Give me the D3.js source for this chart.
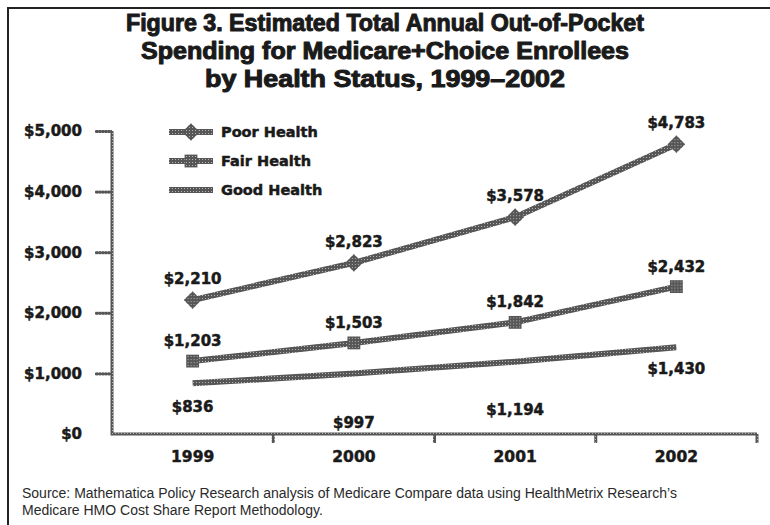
<!DOCTYPE html>
<html>
<head>
<meta charset="utf-8">
<script src="https://cdn.jsdelivr.net/npm/d3@7"></script>
<style>
  body { margin: 0; background: #fff; }
  svg { display: block; }
</style>
</head>
<body>
<svg width="770" height="525"></svg>
<script>
const years = ["1999", "2000", "2001", "2002"]
const poor = [2210, 2823, 3578, 4783]
const fair = [1203, 1503, 1842, 2432]
const good = [836, 997, 1194, 1430]
const yTicks = [0, 1000, 2000, 3000, 4000, 5000]
const seriesNames = ["Poor Health", "Fair Health", "Good Health"]
const titleLines = [
  "Figure 3. Estimated Total Annual Out-of-Pocket",
  "Spending for Medicare+Choice Enrollees",
  "by Health Status, 1999\u20132002"
]
const sourceLines = [
  "Source: Mathematica Policy Research analysis of Medicare Compare data using HealthMetrix Research\u2019s",
  "Medicare HMO Cost Share Report Methodology."
]

// label nudges (px from the point), the original places them by hand
const poorDy = [-16, -16, -16, -16]
const fairDy = [-15, -15, -15, -15]
const goodDy = [29, 54, 53, 27]

const bold = "'DejaVu Sans', Verdana, sans-serif"
const narrow = "'Liberation Sans Narrow', 'Arial Narrow', 'Liberation Sans', Arial, sans-serif"
const ink = "#1a1a1a"

var svg = d3.select("svg")

// halftone look of the original print
var defs = svg.append("defs")
var pat = defs.append("pattern")
    .attr("id", "dots")
    .attr("patternUnits", "userSpaceOnUse")
    .attr("width", 3).attr("height", 3)
pat.append("rect").attr("width", 3).attr("height", 3).attr("fill", "#565656")
pat.append("rect").attr("x", 1).attr("y", 1).attr("width", 1).attr("height", 1).attr("fill", "#b4b4b4")

function heavy(sel, w) {
  sel.attr("font-weight", "bold")
    .attr("fill", ink)
    .attr("stroke", ink)
    .attr("stroke-width", w)
    .attr("stroke-linejoin", "round")
}

// frame (top and left only)
svg.append("path")
    .attr("d", "M8,525V8H770")
    .attr("fill", "none")
    .attr("stroke", "#222")
    .attr("stroke-width", 2)

// title
svg.append("g").selectAll("text")
    .data(titleLines)
    .enter().append("text")
      .attr("x", 385)
      .attr("y", function(d, i){ return 31 + i * 28 })
      .attr("text-anchor", "middle")
      .attr("font-family", narrow)
      .attr("font-size", 23)
      .attr("textLength", function(d, i){ return [518, 488, 360][i] })
      .attr("lengthAdjust", "spacingAndGlyphs")
      .text(function(d){ return d })
      .call(heavy, 1)

var x = d3.scaleBand()
    .domain(years)
    .range([112, 757])

var y = d3.scaleLinear()
    .domain([0, 5000])
    .range([434, 131])

var axisColor = "url(#dots)"

// y axis
var yAxis = svg.append("g").attr("transform", "translate(112,0)")
    .call(d3.axisLeft(y).tickValues(yTicks).tickSize(17).tickSizeOuter(0)
      .tickFormat(function(d){ return "$" + d3.format(",")(d) }))
yAxis.select(".domain").remove()
yAxis.selectAll(".tick line").attr("stroke", axisColor).attr("stroke-width", 3)
yAxis.selectAll(".tick").filter(function(d){ return d === 0 }).select("line").remove()
yAxis.selectAll(".tick text")
    .attr("x", -30)
    .attr("font-family", bold)
    .attr("font-size", 15)
    .call(heavy, 0.5)

// x axis
var xAxis = svg.append("g").attr("transform", "translate(0,434)")
    .call(d3.axisBottom(x).tickSize(0).tickSizeOuter(0))
xAxis.select(".domain").remove()
xAxis.selectAll(".tick text")
    .attr("y", 28)
    .attr("dy", 0)
    .attr("font-family", bold)
    .attr("font-size", 15.5)
    .call(heavy, 0.5)

// band boundary ticks under the x axis
svg.append("g").selectAll("line")
    .data(years)
    .enter().append("line")
      .attr("x1", function(d){ return x(d) + x.bandwidth() })
      .attr("x2", function(d){ return x(d) + x.bandwidth() })
      .attr("y1", 434).attr("y2", 443)
      .attr("stroke", axisColor)
      .attr("stroke-width", 3)

// axis lines
svg.append("path")
    .attr("d", "M" + 112 + "," + y(5000) + "V" + y(0) + "H" + x.range()[1])
    .attr("fill", "none")
    .attr("stroke", axisColor)
    .attr("stroke-width", 3)

var line = d3.line()
    .x(function(d, i){ return x(years[i]) + x.bandwidth() / 2 })
    .y(function(d){ return y(d) })

var series = [poor, fair, good]
var labelDy = [poorDy, fairDy, goodDy]

svg.append("g").selectAll("path")
    .data(series)
    .enter().append("path")
      .attr("d", line)
      .attr("fill", "none")
      .attr("stroke", "url(#dots)")
      .attr("stroke-width", 6)

var diamond = d3.symbol().type(d3.symbolDiamond2).size(200)
var square = d3.symbol().type(d3.symbolSquare2).size(210)

svg.append("g").selectAll("path")
    .data(poor)
    .enter().append("path")
      .attr("transform", function(d, i){ return "translate(" + (x(years[i]) + x.bandwidth() / 2) + "," + y(d) + ")" })
      .attr("d", diamond)
      .attr("fill", "url(#dots)")

svg.append("g").selectAll("path")
    .data(fair)
    .enter().append("path")
      .attr("transform", function(d, i){ return "translate(" + (x(years[i]) + x.bandwidth() / 2) + "," + y(d) + ")" })
      .attr("d", square)
      .attr("fill", "url(#dots)")

// value labels
series.forEach(function(s, k){
  svg.append("g").selectAll("text")
    .data(s)
    .enter().append("text")
      .attr("x", function(d, i){ return x(years[i]) + x.bandwidth() / 2 })
      .attr("y", function(d, i){ return y(d) + labelDy[k][i] })
      .attr("text-anchor", "middle")
      .attr("font-family", bold)
      .attr("font-size", 15)
      .text(function(d){ return "$" + d3.format(",")(d) })
      .call(heavy, 0.5)
})

// legend
var legend = svg.append("g").selectAll("g")
    .data(seriesNames)
    .enter().append("g")
      .attr("transform", function(d, i){ return "translate(0," + (132 + i * 29) + ")" })

legend.append("line")
    .attr("x1", 169).attr("x2", 213)
    .attr("stroke", "url(#dots)")
    .attr("stroke-width", 6)

legend.filter(function(d, i){ return i === 0 }).append("path")
    .attr("transform", "translate(191,0)")
    .attr("d", diamond)
    .attr("fill", "url(#dots)")

legend.filter(function(d, i){ return i === 1 }).append("path")
    .attr("transform", "translate(191,0)")
    .attr("d", square)
    .attr("fill", "url(#dots)")

legend.append("text")
    .attr("x", 221)
    .attr("y", 5)
    .attr("font-family", bold)
    .attr("font-size", 14.5)
    .text(function(d){ return d })
    .call(heavy, 0.5)

// source note
svg.append("g").selectAll("text")
    .data(sourceLines)
    .enter().append("text")
      .attr("x", 22)
      .attr("y", function(d, i){ return 498 + i * 17 })
      .attr("font-family", "'Liberation Sans', Arial, sans-serif")
      .attr("font-size", 14)
      .attr("fill", "#2a2a2a")
      .text(function(d){ return d })
</script>
</body>
</html>
